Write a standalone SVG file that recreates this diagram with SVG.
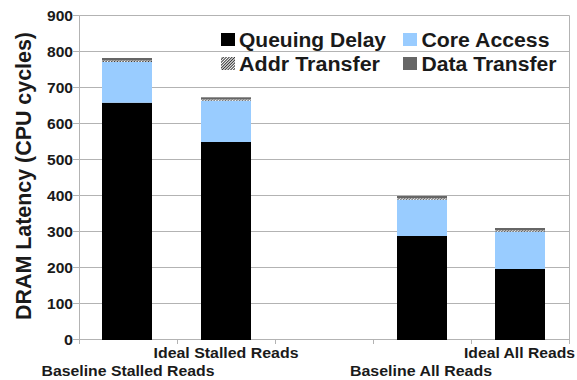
<svg xmlns="http://www.w3.org/2000/svg" width="577" height="380" viewBox="0 0 577 380">
<style>
text{font-family:"Liberation Sans",Arial,sans-serif;font-weight:bold;fill:#1a1a1a}
.grid{stroke:#b3b3b3;stroke-width:1;fill:none}
.ytick{font-size:14px;text-anchor:end}
.cat{font-size:15.5px;text-anchor:middle}
.leg{font-size:19.5px}
.q{fill:#000}
.c{fill:#99ccff}
.a{fill:url(#hatch)}
.d{fill:#666666}
</style>
<defs>
<pattern id="hatch" width="2" height="2" patternUnits="userSpaceOnUse" patternTransform="rotate(45)">
<rect width="2" height="2" fill="#ffffff"/>
<rect width="1" height="2" fill="#333333"/>
</pattern>
</defs>
<rect width="577" height="380" fill="#ffffff"/>
<g id="gridlines" class="grid">
<path d="M79.5 15.5H569.5M79.5 51.5H569.5M79.5 87.5H569.5M79.5 123.5H569.5M79.5 159.5H569.5M79.5 195.5H569.5M79.5 231.5H569.5M79.5 267.5H569.5M79.5 303.5H569.5M79.5 339.5H569.5"/>
<path d="M73 15.5H79.5M73 51.5H79.5M73 87.5H79.5M73 123.5H79.5M73 159.5H79.5M73 195.5H79.5M73 231.5H79.5M73 267.5H79.5M73 303.5H79.5M73 339.5H79.5"/>
<path d="M79.5 15.5V344M569.5 15.5V344M177.5 339.5V344M275.5 339.5V344M373.5 339.5V344M471.5 339.5V344"/>
</g>
<g id="yaxis-labels">
<text class="ytick" x="73" y="20.5" textLength="26" lengthAdjust="spacingAndGlyphs">900</text>
<text class="ytick" x="73" y="56.5" textLength="26" lengthAdjust="spacingAndGlyphs">800</text>
<text class="ytick" x="73" y="92.5" textLength="26" lengthAdjust="spacingAndGlyphs">700</text>
<text class="ytick" x="73" y="128.5" textLength="26" lengthAdjust="spacingAndGlyphs">600</text>
<text class="ytick" x="73" y="164.5" textLength="26" lengthAdjust="spacingAndGlyphs">500</text>
<text class="ytick" x="73" y="200.5" textLength="26" lengthAdjust="spacingAndGlyphs">400</text>
<text class="ytick" x="73" y="236.5" textLength="26" lengthAdjust="spacingAndGlyphs">300</text>
<text class="ytick" x="73" y="272.5" textLength="26" lengthAdjust="spacingAndGlyphs">200</text>
<text class="ytick" x="73" y="308.5" textLength="26" lengthAdjust="spacingAndGlyphs">100</text>
<text class="ytick" x="73" y="344.5" textLength="9" lengthAdjust="spacingAndGlyphs">0</text>
</g>
<text id="ytitle" transform="translate(31,176) rotate(-90)" text-anchor="middle" font-size="22" textLength="288" lengthAdjust="spacingAndGlyphs">DRAM Latency (CPU cycles)</text>
<g id="bar-baseline-stalled">
<rect class="q" x="102" y="102.7" width="50" height="237.3"/>
<rect class="c" x="102" y="62" width="50" height="40.7"/>
<rect class="a" x="102" y="60.5" width="50" height="1.5"/>
<rect class="d" x="102" y="58" width="50" height="2.5"/>
</g>
<g id="bar-ideal-stalled">
<rect class="q" x="201" y="142" width="50" height="198"/>
<rect class="c" x="201" y="100.7" width="50" height="41.3"/>
<rect class="a" x="201" y="99.5" width="50" height="1.2"/>
<rect class="d" x="201" y="97.3" width="50" height="2.2"/>
</g>
<g id="bar-baseline-all">
<rect class="q" x="397" y="236" width="50" height="104"/>
<rect class="c" x="397" y="199.7" width="50" height="36.3"/>
<rect class="a" x="397" y="198.3" width="50" height="1.4"/>
<rect class="d" x="397" y="196" width="50" height="2.3"/>
</g>
<g id="bar-ideal-all">
<rect class="q" x="495" y="269" width="50" height="71"/>
<rect class="c" x="495" y="231.7" width="50" height="37.3"/>
<rect class="a" x="495" y="230.3" width="50" height="1.4"/>
<rect class="d" x="495" y="228" width="50" height="2.3"/>
</g>
<g id="category-labels">
<text class="cat" x="226" y="358" textLength="145" lengthAdjust="spacingAndGlyphs">Ideal Stalled Reads</text>
<text class="cat" x="128" y="376" textLength="173" lengthAdjust="spacingAndGlyphs">Baseline Stalled Reads</text>
<text class="cat" x="519.5" y="358" textLength="111" lengthAdjust="spacingAndGlyphs">Ideal All Reads</text>
<text class="cat" x="421" y="376" textLength="142" lengthAdjust="spacingAndGlyphs">Baseline All Reads</text>
</g>
<g id="legend">
<g id="legend-queuing">
<rect class="q" x="221" y="33" width="14" height="13"/>
<text class="leg" x="239" y="46.5" textLength="147" lengthAdjust="spacingAndGlyphs">Queuing Delay</text>
</g>
<g id="legend-core">
<rect class="c" x="403" y="33" width="14" height="13"/>
<text class="leg" x="421.5" y="46.5" textLength="128" lengthAdjust="spacingAndGlyphs">Core Access</text>
</g>
<g id="legend-addr">
<rect class="a" x="221" y="57" width="14" height="13"/>
<text class="leg" x="239" y="70.5" textLength="141" lengthAdjust="spacingAndGlyphs">Addr Transfer</text>
</g>
<g id="legend-data">
<rect class="d" x="403" y="57" width="14" height="13"/>
<text class="leg" x="421.5" y="70.5" textLength="135" lengthAdjust="spacingAndGlyphs">Data Transfer</text>
</g>
</g>
</svg>
